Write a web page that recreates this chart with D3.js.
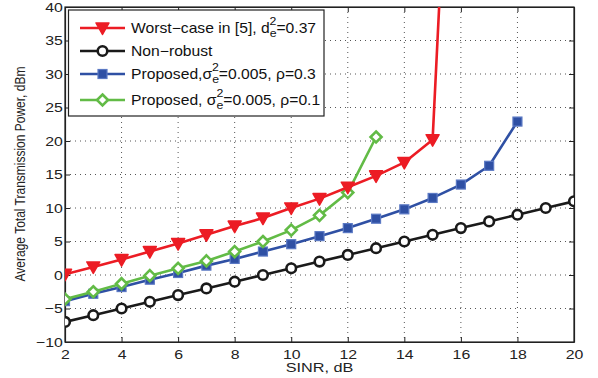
<!DOCTYPE html>
<html><head><meta charset="utf-8">
<script src="https://cdn.jsdelivr.net/npm/d3@7"></script>
<style>
html,body{margin:0;padding:0;background:#fff;}
svg text{font-family:"Liberation Sans",Arial,Helvetica,sans-serif;}
</style></head>
<body><svg id="c" width="598" height="378"></svg>
<script>
const xTicks = [2,4,6,8,10,12,14,16,18,20];
const yTicks = [-10,-5,0,5,10,15,20,25,30,35,40];

const worstX = [2,3,4,5,6,7,8,9,10,11,12,13,14,15,16];
const worstY = [0.1,1.2,2.3,3.5,4.7,6.0,7.3,8.5,10.0,11.4,13.1,14.8,16.8,20.2,106];

const nonRobustX = [2,3,4,5,6,7,8,9,10,11,12,13,14,15,16,17,18,19,20];
const nonRobustY = [-7,-6,-5,-4,-3,-2,-1,0,1,2,3,4,5,6,7,8,9,10,11];

const prop03X = [2,3,4,5,6,7,8,9,10,11,12,13,14,15,16,17,18];
const prop03Y = [-3.9,-2.8,-1.8,-0.7,0.3,1.4,2.4,3.5,4.6,5.8,7.0,8.4,9.8,11.5,13.5,16.3,22.9];

const prop01X = [2,3,4,5,6,7,8,9,10,11,12,13];
const prop01Y = [-3.6,-2.5,-1.3,-0.1,1.0,2.1,3.5,5.0,6.7,8.9,12.3,20.6];

const seriesNames = ["Worst\u2212case in [5], d","Non\u2212robust","Proposed,\u03c3","Proposed, \u03c3"];

const svg = d3.select("#c");
const L = 65, R = 574, T = 7, B = 342;
const SX = 1.22; // horizontal stretch of tick text in the reference
const LSX = 1.12; // legend text stretch
const x = d3.scaleLinear().domain([2,20]).range([L,R]);
const y = d3.scaleLinear().domain([-10,40]).range([B,T]);

// grid
const g = svg.append("g");
xTicks.slice(1,-1).forEach(t=>{
  g.append("line").attr("x1",x(t)).attr("x2",x(t)).attr("y1",T).attr("y2",B)
   .attr("stroke","#555").attr("stroke-width",1).attr("stroke-dasharray","1,4");
});
yTicks.slice(1,-1).forEach(t=>{
  g.append("line").attr("x1",L).attr("x2",R).attr("y1",y(t)).attr("y2",y(t))
   .attr("stroke","#555").attr("stroke-width",1).attr("stroke-dasharray","1,4");
});

// axes
const ax = svg.append("g").attr("transform",`translate(0,${B})`)
  .call(d3.axisBottom(x).tickValues(xTicks).tickSizeInner(-5).tickSizeOuter(0).tickPadding(8));
const ay = svg.append("g").attr("transform",`translate(${L},0)`)
  .call(d3.axisLeft(y).tickValues(yTicks).tickSizeInner(-5).tickSizeOuter(0).tickPadding(6));
svg.append("g").attr("transform",`translate(0,${T})`)
  .call(d3.axisTop(x).tickValues(xTicks).tickSizeInner(-5).tickSizeOuter(0).tickFormat(""));
svg.append("g").attr("transform",`translate(${R},0)`)
  .call(d3.axisRight(y).tickValues(yTicks).tickSizeInner(-5).tickSizeOuter(0).tickFormat(""));
svg.selectAll(".domain").attr("stroke","#222").attr("stroke-width",1.2);
svg.selectAll(".tick line").attr("stroke","#222");
svg.selectAll(".tick text").attr("font-size",13).attr("fill","#222")
  .attr("font-family","Liberation Sans, Arial, sans-serif");
ax.selectAll(".tick text").attr("x",0).attr("transform",`scale(${SX},1)`);
ay.selectAll(".tick text").attr("x",-2.2/SX).attr("transform",`scale(${SX},1)`);
svg.append("rect").attr("x",L).attr("y",T).attr("width",R-L).attr("height",B-T)
  .attr("fill","none").attr("stroke","#222").attr("stroke-width",1.2);

// clip
svg.append("clipPath").attr("id","clip").append("rect")
  .attr("x",L).attr("y",T).attr("width",R-L).attr("height",B-T);
const plot = svg.append("g").attr("clip-path","url(#clip)");

const red="#ec1c24", black="#1a1a1a", blue="#2f50a4", green="#62bb46";
const line = d3.line().x(d=>x(d[0])).y(d=>y(d[1]));

function marker(sel, type, color, cx, cy){
  if(type==="tri"){
    sel.append("path").attr("d",`M${cx-6.5},${cy-5} L${cx+6.5},${cy-5} L${cx},${cy+6.5} Z`)
      .attr("fill",color).attr("stroke",color).attr("stroke-width",1.5).attr("stroke-linejoin","round");
  } else if(type==="circ"){
    sel.append("circle").attr("cx",cx).attr("cy",cy).attr("r",4.8)
      .attr("fill","#fff").attr("stroke",color).attr("stroke-width",2.6);
  } else if(type==="sq"){
    sel.append("rect").attr("x",cx-4.5).attr("y",cy-4.5).attr("width",9).attr("height",9)
      .attr("fill",color).attr("stroke","#5b79c4").attr("stroke-width",1.2);
  } else if(type==="dia"){
    sel.append("path").attr("d",`M${cx},${cy-5.5} L${cx+5.5},${cy} L${cx},${cy+5.5} L${cx-5.5},${cy} Z`)
      .attr("fill","#fff").attr("stroke",color).attr("stroke-width",2.6).attr("stroke-linejoin","miter");
  }
}

const series = [
  {xs:nonRobustX, ys:nonRobustY, color:black, type:"circ"},
  {xs:prop03X, ys:prop03Y, color:blue, type:"sq"},
  {xs:prop01X, ys:prop01Y, color:green, type:"dia"},
  {xs:worstX, ys:worstY, color:red, type:"tri"}
];
series.forEach(s=>{
  const pts = s.xs.map((v,i)=>[v,s.ys[i]]);
  plot.append("path").datum(pts).attr("d",line).attr("fill","none")
    .attr("stroke",s.color).attr("stroke-width",2.6).attr("stroke-linejoin","round");
  pts.forEach(p=>marker(plot,s.type,s.color,x(p[0]),y(p[1])));
});

// legend
const lg = svg.append("g");
lg.append("rect").attr("x",68.5).attr("y",10).attr("width",255.5).attr("height",106)
  .attr("fill","#fff").attr("stroke","#222").attr("stroke-width",1.2);
const legendItems = [
  {color:red,type:"tri",y:28},
  {color:black,type:"circ",y:51},
  {color:blue,type:"sq",y:74},
  {color:green,type:"dia",y:100}
];
legendItems.forEach((it,i)=>{
  lg.append("line").attr("x1",80).attr("x2",125).attr("y1",it.y).attr("y2",it.y)
    .attr("stroke",it.color).attr("stroke-width",2.6);
  marker(lg,it.type,it.color,102.5,it.y);
});
const fs = 14;
function txt(xp, yp){
  return lg.append("text").attr("x",0).attr("y",0)
    .attr("transform",`translate(${xp},${yp}) scale(${LSX},1)`)
    .attr("font-size",fs).attr("fill","#111");
}
function supsub(t){
  t.append("tspan").attr("dy",4).attr("font-size",11).text("e");
  t.append("tspan").attr("dx",-6.2).attr("dy",-12).attr("font-size",11).text("2");
}
// row 1
let t1 = txt(131, 33);
t1.append("tspan").text(seriesNames[0]);
supsub(t1);
t1.append("tspan").attr("dy",8).text("=0.37");
// row 2
txt(131, 56).text(seriesNames[1]);
// row 3
let t3 = txt(131, 79);
t3.append("tspan").text(seriesNames[2]);
supsub(t3);
t3.append("tspan").attr("dy",8).text("=0.005, \u03c1=0.3");
// row 4
let t4 = txt(131, 105);
t4.append("tspan").text(seriesNames[3]);
supsub(t4);
t4.append("tspan").attr("dy",8).text("=0.005, \u03c1=0.1");

// axis labels
svg.append("text").attr("x",0).attr("y",0)
  .attr("transform",`translate(${(L+R)/2},372) scale(1.3,1)`).attr("text-anchor","middle")
  .attr("font-size",12.5).attr("fill","#222").text("SINR, dB");
svg.append("text").attr("transform",`translate(25,174) scale(${SX},1) rotate(-90)`)
  .attr("text-anchor","middle").attr("font-size",12).attr("fill","#222")
  .text("Average Total Transmission Power, dBm");
</script></body></html>
